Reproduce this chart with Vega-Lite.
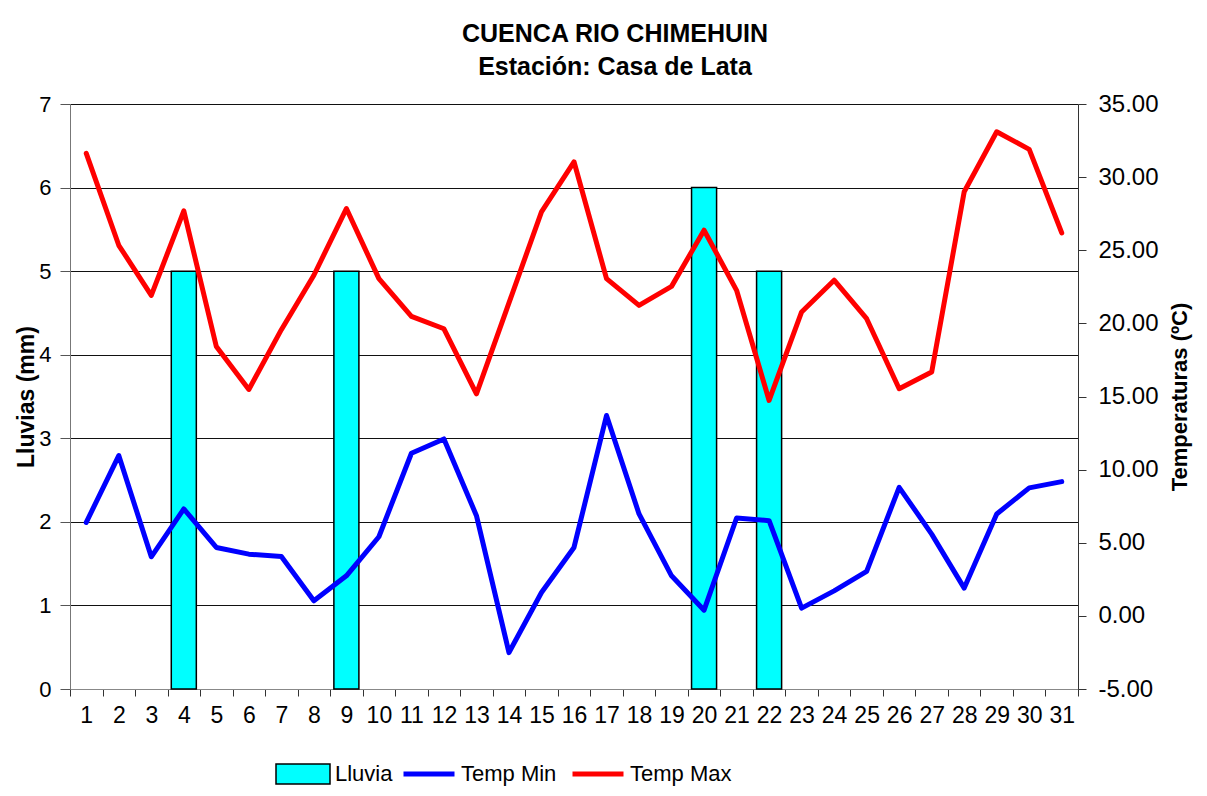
{
  "$schema": "https://vega.github.io/schema/vega-lite/v6.json",
  "autosize": "none",
  "width": 1008,
  "height": 585,
  "padding": {"left": 70, "top": 104, "right": 129, "bottom": 107},
  "background": "white",
  "config": {
    "font": "Liberation Sans",
    "view": {"stroke": null},
    "axis": {"labelColor": "#000", "titleColor": "#000", "labelFont": "Liberation Sans", "titleFont": "Liberation Sans"},
    "legend": {"labelFont": "Liberation Sans", "labelColor": "#000"}
  },
  "title": {
    "text": "CUENCA RIO CHIMEHUIN",
    "subtitle": "Estación: Casa de Lata",
    "anchor": "middle",
    "frame": "group",
    "dx": 41,
    "offset": 12,
    "fontSize": 25,
    "fontWeight": "bold",
    "color": "#000",
    "subtitleFontSize": 25,
    "subtitleFontWeight": "bold",
    "subtitleColor": "#000",
    "subtitleFont": "Liberation Sans",
    "subtitlePadding": 8
  },
  "data": {
    "values": [
      {"dia": 1, "Lluvia": null, "Temp Min": 6.39, "Temp Max": 31.62},
      {"dia": 2, "Lluvia": null, "Temp Min": 10.96, "Temp Max": 25.34},
      {"dia": 3, "Lluvia": null, "Temp Min": 4.04, "Temp Max": 21.92},
      {"dia": 4, "Lluvia": 5, "Temp Min": 7.31, "Temp Max": 27.69},
      {"dia": 5, "Lluvia": null, "Temp Min": 4.68, "Temp Max": 18.42},
      {"dia": 6, "Lluvia": null, "Temp Min": 4.22, "Temp Max": 15.48},
      {"dia": 7, "Lluvia": null, "Temp Min": 4.06, "Temp Max": 19.57},
      {"dia": 8, "Lluvia": null, "Temp Min": 1.03, "Temp Max": 23.29},
      {"dia": 9, "Lluvia": 5, "Temp Min": 2.74, "Temp Max": 27.85},
      {"dia": 10, "Lluvia": null, "Temp Min": 5.41, "Temp Max": 23.06},
      {"dia": 11, "Lluvia": null, "Temp Min": 11.12, "Temp Max": 20.48},
      {"dia": 12, "Lluvia": null, "Temp Min": 12.1, "Temp Max": 19.63},
      {"dia": 13, "Lluvia": null, "Temp Min": 6.85, "Temp Max": 15.18},
      {"dia": 14, "Lluvia": null, "Temp Min": -2.51, "Temp Max": 21.4},
      {"dia": 15, "Lluvia": null, "Temp Min": 1.6, "Temp Max": 27.62},
      {"dia": 16, "Lluvia": null, "Temp Min": 4.68, "Temp Max": 31.05},
      {"dia": 17, "Lluvia": null, "Temp Min": 13.7, "Temp Max": 23.06},
      {"dia": 18, "Lluvia": null, "Temp Min": 6.97, "Temp Max": 21.23},
      {"dia": 19, "Lluvia": null, "Temp Min": 2.74, "Temp Max": 22.53},
      {"dia": 20, "Lluvia": 6, "Temp Min": 0.39, "Temp Max": 26.37},
      {"dia": 21, "Lluvia": null, "Temp Min": 6.69, "Temp Max": 22.26},
      {"dia": 22, "Lluvia": 5, "Temp Min": 6.51, "Temp Max": 14.73},
      {"dia": 23, "Lluvia": null, "Temp Min": 0.53, "Temp Max": 20.78},
      {"dia": 24, "Lluvia": null, "Temp Min": 1.71, "Temp Max": 22.95},
      {"dia": 25, "Lluvia": null, "Temp Min": 3.04, "Temp Max": 20.32},
      {"dia": 26, "Lluvia": null, "Temp Min": 8.79, "Temp Max": 15.53},
      {"dia": 27, "Lluvia": null, "Temp Min": 5.59, "Temp Max": 16.67},
      {"dia": 28, "Lluvia": null, "Temp Min": 1.9, "Temp Max": 29.0},
      {"dia": 29, "Lluvia": null, "Temp Min": 6.97, "Temp Max": 33.1},
      {"dia": 30, "Lluvia": null, "Temp Min": 8.75, "Temp Max": 31.9},
      {"dia": 31, "Lluvia": null, "Temp Min": 9.18, "Temp Max": 26.19}
    ]
  },
  "layer": [
    {
      "transform": [{"filter": "isValid(datum.Lluvia)"}],
      "mark": {"type": "bar", "width": {"band": 0.77}, "stroke": "#000", "strokeWidth": 1.5},
      "encoding": {
        "x": {
          "field": "dia", "type": "ordinal",
          "scale": {"domain": [1,2,3,4,5,6,7,8,9,10,11,12,13,14,15,16,17,18,19,20,21,22,23,24,25,26,27,28,29,30,31], "paddingInner": 0, "paddingOuter": 0},
          "axis": {"title": null, "labelAngle": 0, "tickBand": "extent", "tickSize": 7, "tickColor": "#333", "domainColor": "#888", "labelFontSize": 23, "labelPadding": 8}
        },
        "y": {
          "field": "Lluvia", "type": "quantitative",
          "scale": {"domain": [0, 7], "nice": false, "zero": true},
          "axis": {"orient": "left", "values": [0,1,2,3,4,5,6,7], "grid": true, "gridColor": "#111", "gridWidth": 1, "tickSize": 10, "tickColor": "#555", "domainColor": "#777", "labelFontSize": 22, "labelPadding": 9, "title": "Lluvias (mm)", "titleFontSize": 23, "titleFontWeight": "bold", "titlePadding": 0}
        },
        "fill": {
          "datum": "Lluvia",
          "scale": {"domain": ["Lluvia"], "range": ["#00FFFF"]},
          "legend": {"title": null, "orient": "none", "legendX": 205, "legendY": 642, "padding": 0, "symbolType": "M-1,-0.37H1V0.37H-1Z", "symbolSize": 2916, "symbolStrokeColor": "#000", "symbolStrokeWidth": 1.5, "symbolFillColor": "#00FFFF", "labelFontSize": 22, "labelOffset": 4}
        }
      }
    },
    {
      "transform": [{"fold": ["Temp Min", "Temp Max"], "as": ["serie", "temp"]}],
      "mark": {"type": "line", "strokeWidth": 5, "strokeCap": "round", "strokeJoin": "round"},
      "encoding": {
        "x": {"field": "dia", "type": "ordinal"},
        "y": {
          "field": "temp", "type": "quantitative",
          "scale": {"domain": [-5, 35], "nice": false, "zero": false},
          "axis": {"orient": "right", "values": [-5,0,5,10,15,20,25,30,35], "labelExpr": "replace(format(datum.value, '.2f'), '\u2212', '-')", "grid": false, "tickSize": 8, "tickColor": "#333", "domainColor": "#333", "labelFontSize": 24, "labelPadding": 12, "title": "Temperaturas (ºC)", "titleFontSize": 22, "titleFontWeight": "bold", "titleAngle": 270, "titlePadding": 33}
        },
        "stroke": {
          "field": "serie", "type": "nominal",
          "scale": {"domain": ["Temp Min", "Temp Max"], "range": ["#0000FF", "#FF0000"]},
          "legend": {"title": null, "orient": "none", "direction": "horizontal", "legendX": 331, "legendY": 642, "padding": 0, "symbolType": "stroke", "symbolSize": 2601, "symbolStrokeWidth": 5, "labelFontSize": 22, "labelOffset": 4, "columnPadding": 5}
        }
      }
    }
  ],
  "resolve": {"scale": {"y": "independent"}}
}
